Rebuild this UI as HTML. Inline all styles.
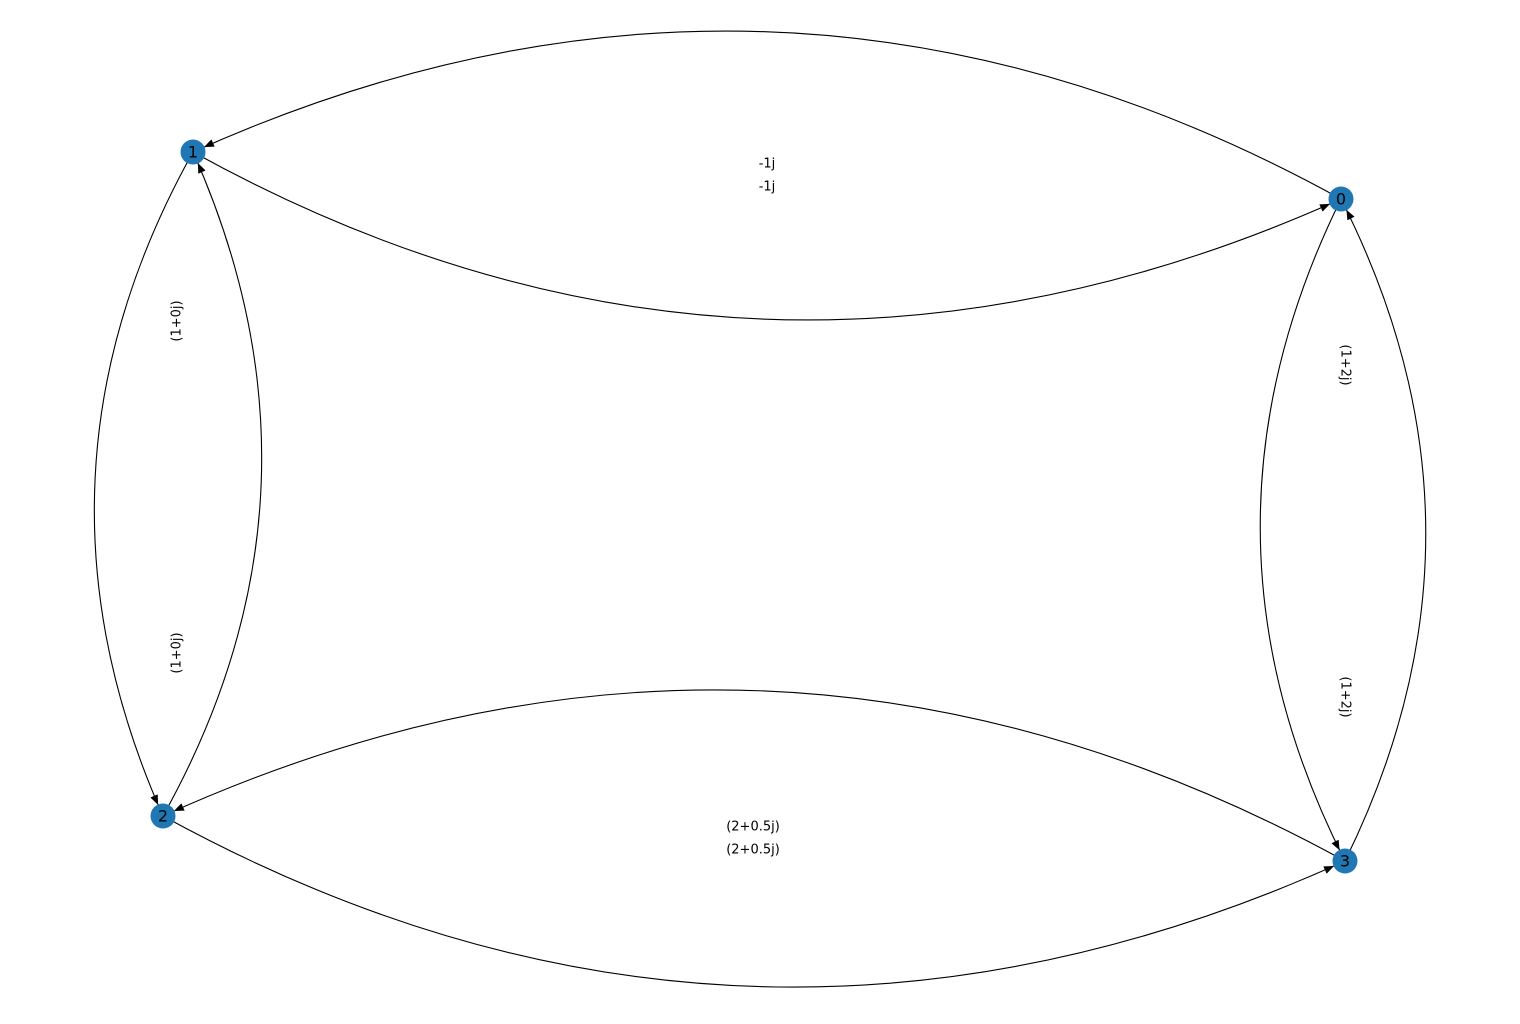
<!DOCTYPE html>
<html><head><meta charset="utf-8"><style>
html,body{margin:0;padding:0;background:#fff;}
svg text{font-family:"DejaVu Sans","Liberation Sans",sans-serif;}
</style></head><body>
<svg id="chart" width="1520" height="1019" viewBox="0 0 1520 1019" xmlns="http://www.w3.org/2000/svg">
<defs>
<marker id="arrow" markerUnits="userSpaceOnUse" markerWidth="12" markerHeight="10" refX="22" refY="4" orient="auto">
<path d="M0,0 L10,4 L0,8 Z" fill="#000"/>
</marker>
</defs>
<g id="edges"></g>
<g id="labels"></g>
<g id="nodes"></g>
</svg>
<script>
const nodeIds = ["0","1","2","3"];
const nodeX = [1341,193,163,1345];
const nodeY = [199,152,816,861];
const edgeFrom = [0,1,1,2,2,3,0,3];
const edgeTo   = [1,0,2,1,3,2,3,0];
const edgeRad = 0.25;
const labelText = ["-1j","-1j","(1+0j)","(1+0j)","(2+0.5j)","(2+0.5j)","(1+2j)","(1+2j)"];
const labelX = [767,767,177,177,753,753,1345,1345];
const labelY = [164,187,321,653,827,850,365,697];
const labelRot = [0,0,-90,-90,0,0,90,90];
const NS="http://www.w3.org/2000/svg";
const eg=document.getElementById('edges'), lg=document.getElementById('labels'), ng=document.getElementById('nodes');
for(let i=0;i<edgeFrom.length;i++){
  const x1=nodeX[edgeFrom[i]],y1=nodeY[edgeFrom[i]],x2=nodeX[edgeTo[i]],y2=nodeY[edgeTo[i]];
  const mx=(x1+x2)/2,my=(y1+y2)/2,dx=x2-x1,dy=y2-y1;
  const cx=mx-edgeRad*dy, cy=my+edgeRad*dx;
  const p=document.createElementNS(NS,'path');
  p.setAttribute('d',`M${x1},${y1} Q${cx},${cy} ${x2},${y2}`);
  p.setAttribute('fill','none');p.setAttribute('stroke','#000');p.setAttribute('stroke-width','1.1');
  p.setAttribute('marker-end','url(#arrow)');
  
  
  eg.appendChild(p);
}
for(let i=0;i<labelText.length;i++){
  const t=document.createElementNS(NS,'text');
  t.setAttribute('x',labelX[i]);t.setAttribute('y',labelY[i]);
  t.setAttribute('text-anchor','middle');t.setAttribute('dominant-baseline','central');
  t.setAttribute('font-size','13');
  if(labelRot[i])t.setAttribute('transform',`rotate(${labelRot[i]} ${labelX[i]} ${labelY[i]})`);
  t.textContent=labelText[i];
  
  
  lg.appendChild(t);
}
for(let i=0;i<nodeIds.length;i++){
  const c=document.createElementNS(NS,'circle');
  c.setAttribute('cx',nodeX[i]);c.setAttribute('cy',nodeY[i]);c.setAttribute('r','12.5');c.setAttribute('fill','#1f77b4');
  
  
  ng.appendChild(c);
  const t=document.createElementNS(NS,'text');
  t.setAttribute('x',nodeX[i]);t.setAttribute('y',nodeY[i]);
  t.setAttribute('text-anchor','middle');t.setAttribute('dominant-baseline','central');t.setAttribute('font-size','16');
  t.textContent=nodeIds[i];
  
  
  ng.appendChild(t);
}
</script>
</body></html>
